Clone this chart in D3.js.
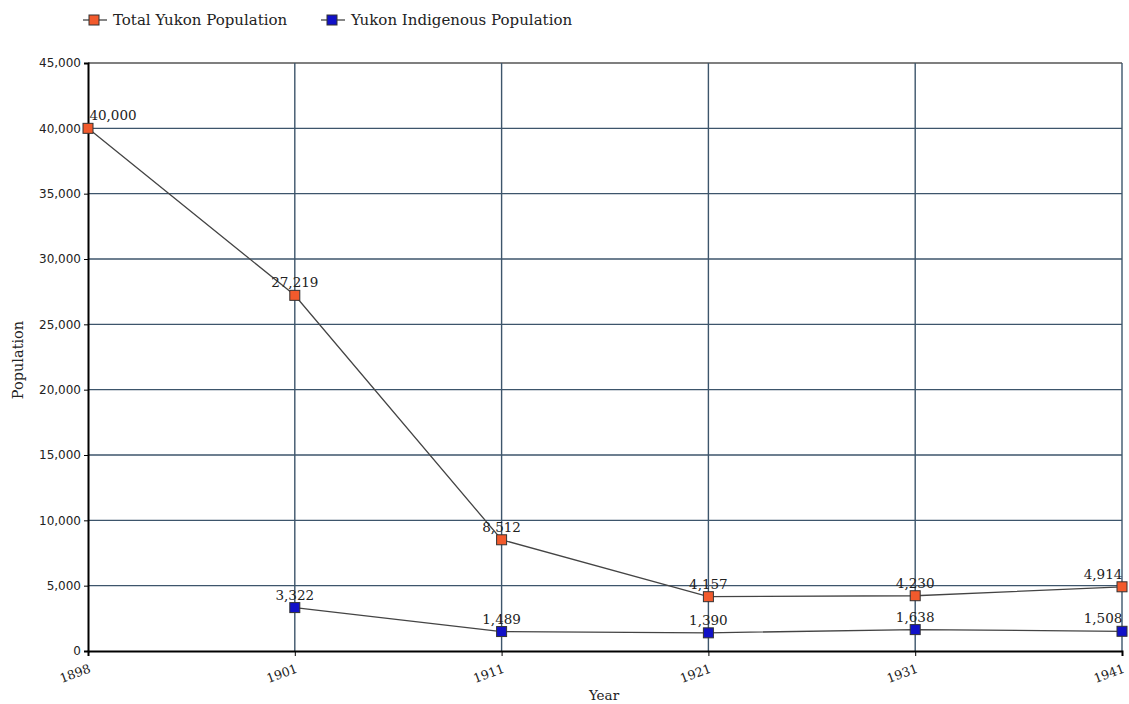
<!DOCTYPE html>
<html>
<head>
<meta charset="utf-8">
<script src="https://cdn.jsdelivr.net/npm/d3@7"></script>
<style>
  body { margin: 0; background: #fff; }
  svg { display: block; }
</style>
</head>
<body>
<svg id="chart" width="1129" height="704"></svg>
<script>
// Yukon population by census year
const years = ["1898", "1901", "1911", "1921", "1931", "1941"];
const totalPop = [40000, 27219, 8512, 4157, 4230, 4914];
const indigenousPop = [null, 3322, 1489, 1390, 1638, 1508];
const yTicks = [0, 5000, 10000, 15000, 20000, 25000, 30000, 35000, 40000, 45000];
const seriesNames = ["Total Yukon Population", "Yukon Indigenous Population"];
const seriesColors = ["#f25a2c", "#1111c8"];

const svg = d3.select("#chart");
const margin = { left: 88, right: 7, top: 63, bottom: 53 };
const W = 1129, H = 704;
const x = d3.scalePoint().domain(years).range([margin.left, W - margin.right]).padding(0);
const y = d3.scaleLinear().domain([0, 45000]).range([H - margin.bottom, margin.top]);

const serif = "'DejaVu Serif', 'Liberation Serif', serif";
const sans = "'DejaVu Sans', sans-serif";
const gridColor = "#3d556b";

// grid
const grid = svg.append("g");
grid.selectAll(".hg").data(yTicks.slice(1)).join("line")
  .attr("x1", margin.left).attr("x2", W - margin.right)
  .attr("y1", d => y(d)).attr("y2", d => y(d))
  .attr("stroke", d => d === 45000 ? "#555" : gridColor).attr("stroke-width", 1.4);
grid.selectAll(".vg").data(years.slice(1)).join("line")
  .attr("x1", d => x(d)).attr("x2", d => x(d))
  .attr("y1", margin.top).attr("y2", H - margin.bottom)
  .attr("stroke", gridColor).attr("stroke-width", 1.4);

// y axis
const yAxis = svg.append("g").attr("transform", `translate(${margin.left},0)`)
  .call(d3.axisLeft(y).tickValues(yTicks).tickFormat(d3.format(",")).tickSize(4).tickPadding(3));
yAxis.select(".domain").attr("stroke", "#000").attr("stroke-width", 2);
yAxis.selectAll(".tick line").attr("stroke", "#000");
yAxis.selectAll("text").attr("font-family", sans).attr("font-size", 12).attr("fill", "#222");

// x axis
const xAxis = svg.append("g").attr("transform", `translate(0,${H - margin.bottom})`)
  .call(d3.axisBottom(x).tickSize(5).tickPadding(4));
xAxis.select(".domain").attr("stroke", "#000").attr("stroke-width", 2);
xAxis.selectAll(".tick line").attr("stroke", "#000");
xAxis.selectAll("text")
  .attr("font-family", serif).attr("font-size", 12.5).attr("fill", "#222")
  .attr("text-anchor", "end").attr("dx", "-0.35em").attr("dy", "0.95em")
  .attr("transform", "rotate(-20)");

// axis titles
svg.append("text").attr("x", 604).attr("y", 700).attr("text-anchor", "middle")
  .attr("font-family", serif).attr("font-size", 13.5).attr("fill", "#222").text("Year");
svg.append("text").attr("transform", "translate(23,360) rotate(-90)").attr("text-anchor", "middle")
  .attr("font-family", serif).attr("font-size", 14.5).attr("fill", "#222").text("Population");

// series
const series = [totalPop, indigenousPop];
const line = d3.line().x(d => x(d.year)).y(d => y(d.v));
series.forEach((vals, i) => {
  const data = years.map((yr, j) => ({ year: yr, v: vals[j] })).filter(d => d.v != null);
  svg.append("path").datum(data).attr("d", line)
    .attr("fill", "none").attr("stroke", "#444").attr("stroke-width", 1.3);
  svg.append("g").selectAll("rect").data(data).join("rect")
    .attr("x", d => x(d.year) - 5).attr("y", d => y(d.v) - 5)
    .attr("width", 10).attr("height", 10)
    .attr("fill", seriesColors[i]).attr("stroke", "#333").attr("stroke-width", 1);
  svg.append("g").selectAll("text").data(data).join("text")
    .attr("x", d => d.year === "1898" ? x(d.year) + 25 : (d.year === "1941" ? x(d.year) - 19 : x(d.year)))
    .attr("y", d => y(d.v) - 8)
    .attr("text-anchor", "middle")
    .attr("font-family", serif).attr("font-size", 13.5).attr("fill", "#222")
    .text(d => d3.format(",")(d.v));
});

// legend
const legendX = [83, 321];
seriesNames.forEach((name, i) => {
  const g = svg.append("g").attr("transform", `translate(${legendX[i]},20)`);
  g.append("line").attr("x1", 0).attr("x2", 24).attr("y1", 0).attr("y2", 0)
    .attr("stroke", "#444").attr("stroke-width", 1.3);
  g.append("rect").attr("x", 6).attr("y", -5).attr("width", 10).attr("height", 10)
    .attr("fill", seriesColors[i]).attr("stroke", "#333");
  g.append("text").attr("x", 30).attr("y", 5)
    .attr("font-family", serif).attr("font-size", 15)
    .attr("fill", "#222").text(name);
});
</script>
</body>
</html>
